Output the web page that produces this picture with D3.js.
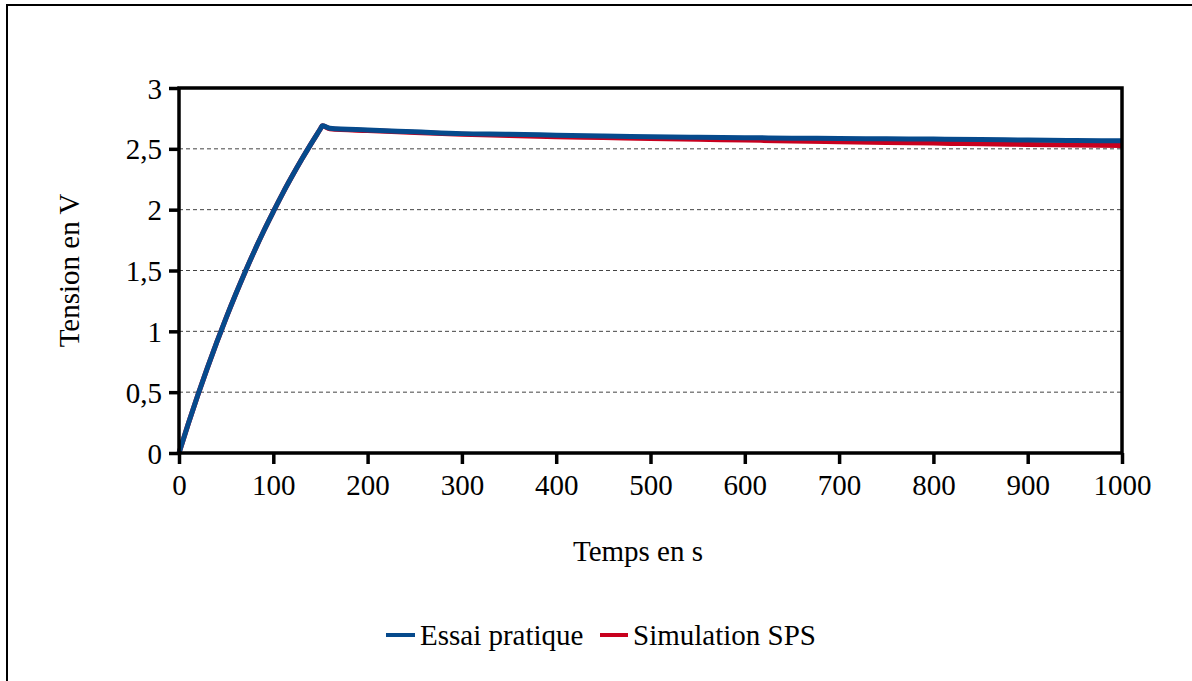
<!DOCTYPE html>
<html><head><meta charset="utf-8">
<script src="https://cdn.jsdelivr.net/npm/d3@7/dist/d3.min.js"></script>
<style>body{margin:0;background:#fff}svg{display:block}</style>
</head><body><svg id="c" width="1192" height="681"></svg>
<script>
const time = [0,10,20,30,40,50,60,70,80,90,100,110,120,130,140,150,152,160,200,250,300,350,400,450,500,550,600,650,700,750,800,850,900,950,1000];
const essai = [0,0.244,0.477,0.698,0.909,1.111,1.303,1.486,1.661,1.827,1.983,2.134,2.276,2.412,2.541,2.665,2.69,2.67,2.655,2.64,2.625,2.62,2.612,2.605,2.6,2.595,2.592,2.588,2.585,2.582,2.58,2.576,2.572,2.568,2.566];
const simulation = [0,0.244,0.477,0.698,0.909,1.111,1.303,1.486,1.661,1.827,1.983,2.134,2.276,2.412,2.541,2.665,2.69,2.665,2.65,2.635,2.62,2.61,2.6,2.593,2.585,2.578,2.572,2.565,2.558,2.552,2.547,2.541,2.536,2.532,2.528];
const xTicks = [0,100,200,300,400,500,600,700,800,900,1000];
const yTicks = [0,0.5,1,1.5,2,2.5,3];
const yTickLabels = ["0","0,5","1","1,5","2","2,5","3"];
const seriesNames = ["Essai pratique","Simulation SPS"];
const colors = ["#064a8c","#c8001e"];
const FONT = "Liberation Serif";

const svg = d3.select("#c");
const L=179, R=1122, T=88, B=453;
const x = d3.scaleLinear().domain([0,1000]).range([L,R]);
const y = d3.scaleLinear().domain([0,3]).range([B,T]);

svg.append("rect").attr("x",7).attr("y",5).attr("width",1300).attr("height",800)
  .attr("fill","none").attr("stroke","#000").attr("stroke-width",2);

svg.append("g").selectAll("line").data(yTicks.filter(v=>v>0&&v<3)).join("line")
  .attr("x1",L).attr("x2",R).attr("y1",d=>y(d)).attr("y2",d=>y(d))
  .attr("stroke","#444").attr("stroke-width",1).attr("stroke-dasharray","4,3");

const line = d3.line().x((d,i)=>x(time[i])).y(d=>y(d)).curve(d3.curveMonotoneX);
svg.append("path").datum(simulation).attr("d",line).attr("fill","none")
  .attr("stroke",colors[1]).attr("stroke-width",5).attr("stroke-linejoin","round");
svg.append("path").datum(essai).attr("d",line).attr("fill","none")
  .attr("stroke",colors[0]).attr("stroke-width",5).attr("stroke-linejoin","round");

svg.append("rect").attr("x",L).attr("y",T).attr("width",R-L).attr("height",B-T)
  .attr("fill","none").attr("stroke","#000").attr("stroke-width",3.5);

const ya = d3.axisLeft(y).tickValues(yTicks).tickFormat((d,i)=>yTickLabels[i]).tickSize(10).tickPadding(7);
const gy = svg.append("g").attr("transform",`translate(${L},0)`).call(ya);
gy.select(".domain").remove();
gy.selectAll("line").attr("stroke","#000").attr("stroke-width",3.5);
gy.selectAll("text").attr("dy","0.35em");

const xa = d3.axisBottom(x).tickValues(xTicks).tickFormat(d3.format("d")).tickSize(11).tickPadding(10);
const gx = svg.append("g").attr("transform",`translate(0,${B})`).call(xa);
gx.select(".domain").remove();
gx.selectAll("line").attr("stroke","#000").attr("stroke-width",3.5);

svg.append("text").attr("transform",`translate(79,${(T+B)/2}) rotate(-90)`)
  .attr("text-anchor","middle").text("Tension en V");
svg.append("text").attr("x",638).attr("y",561).attr("text-anchor","middle").text("Temps en s");

const leg = [{x1:386,x2:415,tx:420},{x1:600,x2:628,tx:633}];
leg.forEach((l,i)=>{
  svg.append("line").attr("x1",l.x1).attr("x2",l.x2).attr("y1",635).attr("y2",635)
    .attr("stroke",colors[i]).attr("stroke-width",4);
  svg.append("text").attr("x",l.tx).attr("y",645).text(seriesNames[i]);
});

svg.selectAll("g").attr("font-family",null).attr("font-size",null);
svg.selectAll("text").attr("font-family",null)
  .style("font-family",FONT).style("font-size","29px").style("fill","#000");
</script></body></html>
